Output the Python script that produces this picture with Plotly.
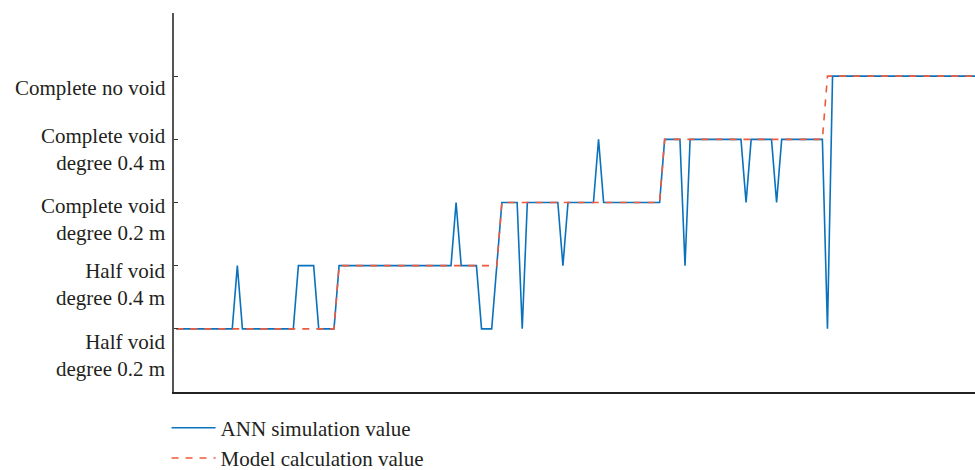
import plotly.graph_objects as go

# ---- data ----
sample_no = list(range(160))

ann_simulation = [
    1, 1, 1, 1, 1, 1, 1, 1, 1, 1, 1, 1, 2, 1, 1, 1,
    1, 1, 1, 1, 1, 1, 1, 1, 2, 2, 2, 2, 1, 1, 1, 1,
    2, 2, 2, 2, 2, 2, 2, 2, 2, 2, 2, 2, 2, 2, 2, 2,
    2, 2, 2, 2, 2, 2, 2, 3, 2, 2, 2, 2, 1, 1, 1, 2,
    3, 3, 3, 3, 1, 3, 3, 3, 3, 3, 3, 3, 2, 3, 3, 3,
    3, 3, 3, 4, 3, 3, 3, 3, 3, 3, 3, 3, 3, 3, 3, 3,
    4, 4, 4, 4, 2, 4, 4, 4, 4, 4, 4, 4, 4, 4, 4, 4,
    3, 4, 4, 4, 4, 4, 3, 4, 4, 4, 4, 4, 4, 4, 4, 4,
    1, 5, 5, 5, 5, 5, 5, 5, 5, 5, 5, 5, 5, 5, 5, 5,
    5, 5, 5, 5, 5, 5, 5, 5, 5, 5, 5, 5, 5, 5, 5, 5,
]

model_calculation = [
    1, 1, 1, 1, 1, 1, 1, 1, 1, 1, 1, 1, 1, 1, 1, 1,
    1, 1, 1, 1, 1, 1, 1, 1, 1, 1, 1, 1, 1, 1, 1, 1,
    2, 2, 2, 2, 2, 2, 2, 2, 2, 2, 2, 2, 2, 2, 2, 2,
    2, 2, 2, 2, 2, 2, 2, 2, 2, 2, 2, 2, 2, 2, 2, 2,
    3, 3, 3, 3, 3, 3, 3, 3, 3, 3, 3, 3, 3, 3, 3, 3,
    3, 3, 3, 3, 3, 3, 3, 3, 3, 3, 3, 3, 3, 3, 3, 3,
    4, 4, 4, 4, 4, 4, 4, 4, 4, 4, 4, 4, 4, 4, 4, 4,
    4, 4, 4, 4, 4, 4, 4, 4, 4, 4, 4, 4, 4, 4, 4, 4,
    5, 5, 5, 5, 5, 5, 5, 5, 5, 5, 5, 5, 5, 5, 5, 5,
    5, 5, 5, 5, 5, 5, 5, 5, 5, 5, 5, 5, 5, 5, 5, 5,
]

level_values = [1, 2, 3, 4, 5]
level_labels = [
    "Half void<br>degree 0.2 m",
    "Half void<br>degree 0.4 m",
    "Complete void<br>degree 0.2 m",
    "Complete void<br>degree 0.4 m",
    "Complete no void",
]
series_names = ["ANN simulation value", "Model calculation value"]

# ---- styling ----
FONT = "Liberation Serif"
TEXT_COLOR = "#231f20"
label_yshift = [-27, -19, -17, -10, -12]

fig = go.Figure()
fig.add_trace(go.Scatter(
    x=sample_no, y=ann_simulation, mode="lines", name=series_names[0],
    line=dict(color="#0a72bd", width=1.6),
))
fig.add_trace(go.Scatter(
    x=sample_no, y=model_calculation, mode="lines", name=series_names[1],
    line=dict(color="#ee5a3c", width=1.6, dash="7px,7px"),
))

for v, lab, ys in zip(level_values, level_labels, label_yshift):
    fig.add_annotation(
        x=0, xref="paper", y=v, yref="y", text=lab, showarrow=False,
        xanchor="right", yanchor="middle", align="right",
        xshift=-6, yshift=ys,
        font=dict(family=FONT, size=21, color=TEXT_COLOR),
    )

fig.update_layout(
    width=975, height=470,
    margin=dict(l=174, r=0, t=12.5, b=78, autoexpand=False),
    paper_bgcolor="white", plot_bgcolor="white",
    showlegend=True,
    legend=dict(
        orientation="v", x=-0.0093, xanchor="left", y=-0.041, yanchor="top",
        font=dict(family=FONT, size=21, color=TEXT_COLOR),
        bgcolor="rgba(0,0,0,0)", itemwidth=44, tracegroupgap=0,
    ),
    xaxis=dict(
        range=[-0.45, 157], showline=True, linecolor="#222222", linewidth=2,
        showticklabels=False, ticks="", showgrid=False, zeroline=False,
    ),
    yaxis=dict(
        range=[0, 6], tickvals=level_values, showticklabels=False,
        ticks="inside", ticklen=4, tickwidth=1.2, tickcolor="#333333",
        showline=True, linecolor="#555555", linewidth=1.5,
        showgrid=False, zeroline=False,
    ),
)

fig.write_html(
    "out.html",
    config={"displayModeBar": False},
    post_script="document.body.style.margin='0';",
)
